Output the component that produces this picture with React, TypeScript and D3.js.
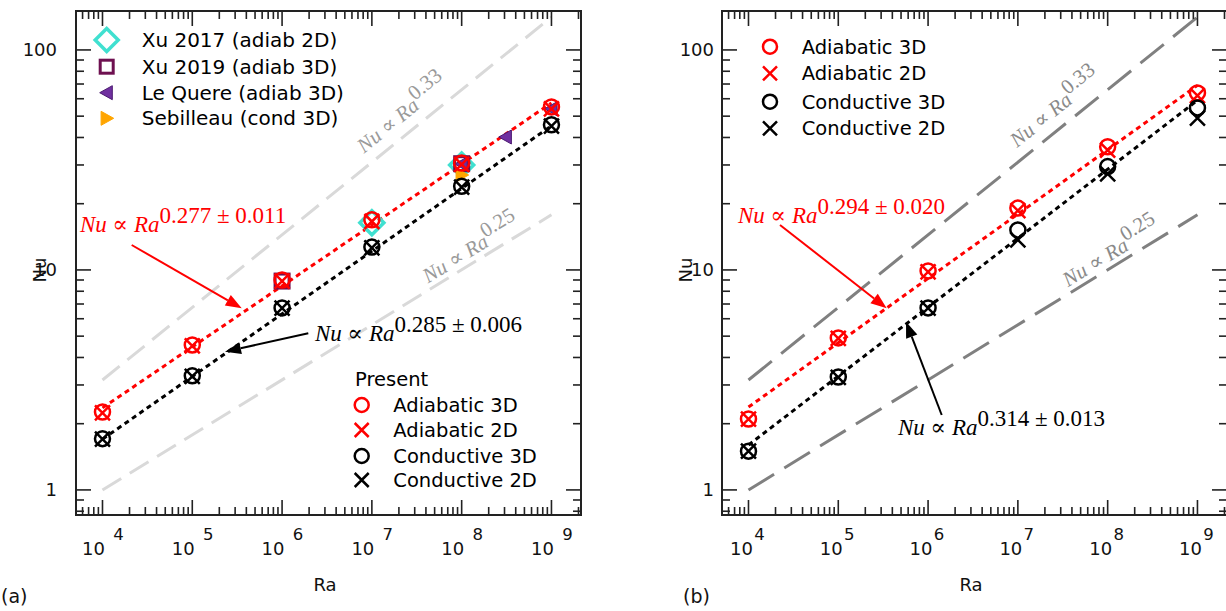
import React from "react";
import * as d3 from "d3";

// ---------------- data ----------------
const RA = [1e4, 1e5, 1e6, 1e7, 1e8, 1e9];

// Panel (a) present results
const A_ADIAB_3D = [2.26, 4.56, 9.0, 16.9, 30.6, 55.1];
const A_ADIAB_2D = [2.24, 4.52, 8.9, 16.6, 30.2, 54.0];
const A_COND_3D = [1.71, 3.3, 6.72, 12.7, 24.0, 45.7];
const A_COND_2D = [1.7, 3.28, 6.7, 12.6, 23.8, 45.0];

// Panel (a) literature
const XU2017_RA = [1e7, 1e8];
const XU2017_NU = [16.4, 30.0];
const XU2019_RA = [1e6, 1e8];
const XU2019_NU = [8.9, 30.4];
const LEQUERE_RA = [1e8, 3.1e8, 1e9];
const LEQUERE_NU = [30.3, 40.2, 54.0];
const SEBILLEAU_RA = [1e8];
const SEBILLEAU_NU = [27.0];

// Panel (b) present results
const B_ADIAB_3D = [2.1, 4.91, 9.9, 19.1, 36.3, 63.8];
const B_ADIAB_2D = [2.1, 4.88, 9.8, 18.6, 35.0, 62.0];
const B_COND_3D = [1.5, 3.26, 6.72, 15.2, 29.5, 54.5];
const B_COND_2D = [1.5, 3.25, 6.7, 13.7, 27.3, 49.0];

// fit lines (end points)
const FIT_RA = [1e4, 1e9];
const A_FIT_ADIAB = [2.36, 57.4];
const A_FIT_COND = [1.7, 45.2];
const B_FIT_ADIAB = [2.38, 69.0];
const B_FIT_COND = [1.6, 59.0];
const A_FIT_LABELS = ["0.277 \u00b1 0.011", "0.285 \u00b1 0.006"];
const B_FIT_LABELS = ["0.294 \u00b1 0.020", "0.314 \u00b1 0.013"];

// reference scaling lines
const REF_RA = [1e4, 1e9];
const REF_033 = [3.16, 141];
const REF_025 = [1.0, 17.8];
const REF_LABELS = ["0.33", "0.25"];

const Y_LABEL_VALUES = [1, 10, 100];
const X_LABEL_EXPONENTS = [4, 5, 6, 7, 8, 9];

const LEGEND_LIT = ["Xu 2017 (adiab 2D)", "Xu 2019 (adiab 3D)", "Le Quere (adiab 3D)", "Sebilleau (cond 3D)"];
const LEGEND_PRESENT = ["Adiabatic 3D", "Adiabatic 2D", "Conductive 3D", "Conductive 2D"];

// ---------------- layout ----------------
const PLOT_W = 505;
const PLOT_H = 504;
const TOP = 11;
const SANS = "DejaVu Sans, Verdana, sans-serif";
const SERIF = "Liberation Serif, DejaVu Serif, serif";
const RED = "#ff0000";
const CYAN = "#40e0d0";
const PLUM = "#6e1050";
const PURPLE = "#7030a0";
const ORANGE = "#ffa500";

const xScale = d3.scaleLog().domain([Math.pow(10, 3.705), Math.pow(10, 9.329)]).range([0, PLOT_W]);
const yScale = d3.scaleLog().domain([Math.pow(10, -0.114), Math.pow(10, 2.177)]).range([PLOT_H, 0]);

type Pt = [number, number];
const zip = (a: number[], b: number[]): Pt[] => a.map((v, i) => [v, b[i]] as Pt);
const lineGen = d3.line<Pt>().x((d) => xScale(d[0])).y((d) => yScale(d[1]));
const isMajor = (v: number) => Math.abs(Math.log10(v) - Math.round(Math.log10(v))) < 1e-6;

function Marker({ kind, x, y, color, s, sw = 2.5, fill = "none" }: any) {
  if (kind === "circle") return <circle cx={x} cy={y} r={s} fill="none" stroke={color} strokeWidth={sw} />;
  if (kind === "cross")
    return (
      <path d={`M${x - s},${y - s}L${x + s},${y + s}M${x - s},${y + s}L${x + s},${y - s}`} stroke={color} strokeWidth={sw} fill="none" />
    );
  if (kind === "diamond")
    return <path d={`M${x},${y - s}L${x + s},${y}L${x},${y + s}L${x - s},${y}Z`} fill={fill} stroke={color} strokeWidth={sw} />;
  if (kind === "square")
    return <rect x={x - s} y={y - s} width={2 * s} height={2 * s} fill={fill} stroke={color} strokeWidth={sw} />;
  if (kind === "triL")
    return <path d={`M${x - s},${y}L${x + s * 0.8},${y - s}L${x + s * 0.8},${y + s}Z`} fill={fill} stroke={color} strokeWidth={sw} strokeLinejoin="miter" />;
  if (kind === "triR")
    return <path d={`M${x + s},${y}L${x - s * 0.8},${y - s}L${x - s * 0.8},${y + s}Z`} fill={fill} stroke={color} strokeWidth={sw} strokeLinejoin="miter" />;
  return null;
}

function Arrow({ x1, y1, x2, y2, color }: any) {
  const ang = Math.atan2(y2 - y1, x2 - x1);
  const L = 16, hw = 6;
  const bx = x2 - L * Math.cos(ang), by = y2 - L * Math.sin(ang);
  const px = -Math.sin(ang) * hw, py = Math.cos(ang) * hw;
  return (
    <g>
      <line x1={x1} y1={y1} x2={bx} y2={by} stroke={color} strokeWidth={2} />
      <path d={`M${x2},${y2}L${bx + px},${by + py}L${bx - px},${by - py}Z`} fill={color} />
    </g>
  );
}

function PowerLaw({ x, y, exp, color, size, rot = 0, sup = 9 }: any) {
  return (
    <text transform={`translate(${x},${y}) rotate(${rot})`} fontFamily={SERIF} fontSize={size} fill={color} style={{ whiteSpace: "pre" }}>
      <tspan fontStyle="italic">Nu</tspan>
      <tspan>{" \u221d "}</tspan>
      <tspan fontStyle="italic">Ra</tspan>
      <tspan dy={-sup}>{exp}</tspan>
    </text>
  );
}

function Panel({ cfg }: any) {
  const xt = xScale.ticks();
  const yt = yScale.ticks();
  const W = PLOT_W, H = PLOT_H;
  const refLine = (nu: number[]) => zip(REF_RA, nu);
  const refAngle = (nu: number[]) =>
    (Math.atan2(yScale(nu[1]) - yScale(nu[0]), xScale(REF_RA[1]) - xScale(REF_RA[0])) * 180) / Math.PI;
  const refY = (nu: number[], px: number) => {
    const x0 = xScale(REF_RA[0]), x1 = xScale(REF_RA[1]);
    const y0 = yScale(nu[0]), y1 = yScale(nu[1]);
    return y0 + ((px - x0) / (x1 - x0)) * (y1 - y0);
  };
  const a = cfg.ann;
  const series = [
    { d: cfg.adiab3d, kind: "circle", color: RED },
    { d: cfg.adiab2d, kind: "cross", color: RED },
    { d: cfg.cond3d, kind: "circle", color: "#000" },
    { d: cfg.cond2d, kind: "cross", color: "#000" },
  ];
  return (
    <g transform={`translate(${cfg.ox},${TOP})`}>
      {/* reference lines */}
      {[REF_033, REF_025].map((nu, i) => (
        <path key={"ref" + i} d={lineGen(refLine(nu)) || ""} fill="none" stroke={cfg.refColor} strokeWidth={3} strokeDasharray={cfg.refDash} />
      ))}
      {[REF_033, REF_025].map((nu, i) => {
        const px = cfg.refLabX[i];
        const py = refY(nu, px) - cfg.refLabDy[i];
        return (
          <PowerLaw key={"rl" + i} x={px} y={py} exp={REF_LABELS[i]} color={cfg.refLabelColor} size={21} rot={refAngle(nu)} sup={9} />
        );
      })}
      {/* fit lines */}
      <path d={lineGen(zip(FIT_RA, cfg.fitAdiab)) || ""} fill="none" stroke={RED} strokeWidth={3} strokeDasharray="5,4" />
      <path d={lineGen(zip(FIT_RA, cfg.fitCond)) || ""} fill="none" stroke="#000" strokeWidth={3} strokeDasharray="5,4" />
      {/* literature */}
      {cfg.literature && (
        <g>
          {zip(XU2017_RA, XU2017_NU).map((p, i) => (
            <Marker key={"x17" + i} kind="diamond" x={xScale(p[0])} y={yScale(p[1])} color={CYAN} s={12} sw={3.5} />
          ))}
          {zip(XU2019_RA, XU2019_NU).map((p, i) => (
            <Marker key={"x19" + i} kind="square" x={xScale(p[0])} y={yScale(p[1])} color={PLUM} s={7} sw={3} />
          ))}
          {zip(LEQUERE_RA, LEQUERE_NU).map((p, i) => (
            <Marker key={"lq" + i} kind="triL" x={xScale(p[0])} y={yScale(p[1])} color="#4b1a70" fill={PURPLE} s={7} sw={1} />
          ))}
          {zip(SEBILLEAU_RA, SEBILLEAU_NU).map((p, i) => (
            <Marker key={"sb" + i} kind="triR" x={xScale(p[0])} y={yScale(p[1])} color={ORANGE} fill={ORANGE} s={7} sw={1} />
          ))}
        </g>
      )}
      {/* present data */}
      {series.map((s, si) =>
        zip(RA, s.d).map((p, i) => (
          <Marker key={"s" + si + "_" + i} kind={s.kind} x={xScale(p[0])} y={yScale(p[1])} color={s.color} s={7.5} sw={2.5} />
        ))
      )}
      {/* annotations */}
      <PowerLaw x={a.redText[0]} y={a.redText[1]} exp={cfg.fitLabels[0]} color={RED} size={23} sup={9.5} />
      <PowerLaw x={a.blackText[0]} y={a.blackText[1]} exp={cfg.fitLabels[1]} color="#000" size={23} sup={9.5} />
      <Arrow x1={a.redArrow[0]} y1={a.redArrow[1]} x2={a.redArrow[2]} y2={a.redArrow[3]} color={RED} />
      <Arrow x1={a.blackArrow[0]} y1={a.blackArrow[1]} x2={a.blackArrow[2]} y2={a.blackArrow[3]} color="#000" />
      {/* legends */}
      {cfg.legend === "a" && (
        <g fontFamily={SANS} fontSize={20} fill="#000">
          {LEGEND_LIT.map((t, i) => {
            const ly = [29, 55.7, 81.7, 107.3][i];
            const m =
              i === 0 ? <Marker kind="diamond" x={30.7} y={ly} color={CYAN} s={11.5} sw={3.5} /> :
              i === 1 ? <Marker kind="square" x={30.7} y={ly} color={PLUM} s={6.5} sw={3} /> :
              i === 2 ? <Marker kind="triL" x={30.7} y={ly} color="#4b1a70" fill={PURPLE} s={7} sw={1} /> :
              <Marker kind="triR" x={30.7} y={ly} color={ORANGE} fill={ORANGE} s={7} sw={1} />;
            return (
              <g key={"ll" + i}>
                {m}
                <text x={65.7} y={ly + 7}>{t}</text>
              </g>
            );
          })}
          <text x={279} y={375} fontSize={19.5}>Present</text>
          {LEGEND_PRESENT.map((t, i) => {
            const ly = [394, 419, 445, 469][i];
            return (
              <g key={"lp" + i}>
                <Marker kind={i % 2 === 0 ? "circle" : "cross"} x={285.7} y={ly} color={i < 2 ? RED : "#000"} s={7} sw={2.5} />
                <text x={317.3} y={ly + 7} fontSize={19.5}>{t}</text>
              </g>
            );
          })}
        </g>
      )}
      {cfg.legend === "b" && (
        <g fontFamily={SANS} fontSize={19.5} fill="#000">
          {LEGEND_PRESENT.map((t, i) => {
            const ly = [35.7, 62.3, 90.7, 117.3][i];
            return (
              <g key={"lb" + i}>
                <Marker kind={i % 2 === 0 ? "circle" : "cross"} x={48} y={ly} color={i < 2 ? RED : "#000"} s={7} sw={2.5} />
                <text x={79.7} y={ly + 7}>{t}</text>
              </g>
            );
          })}
        </g>
      )}
      {/* frame & ticks */}
      <rect x={0} y={0} width={W} height={H} fill="none" stroke="#222" strokeWidth={2} />
      {xt.map((v, i) => {
        const x = xScale(v);
        const len = isMajor(v) ? 15 : 8;
        return (
          <g key={"xt" + i} stroke="#222" strokeWidth={1.6}>
            <line x1={x} y1={H} x2={x} y2={H - len} />
            <line x1={x} y1={0} x2={x} y2={len} />
          </g>
        );
      })}
      {yt.map((v, i) => {
        const y = yScale(v);
        const len = isMajor(v) ? 15 : 8;
        return (
          <g key={"yt" + i} stroke="#222" strokeWidth={1.6}>
            <line x1={0} y1={y} x2={len} y2={y} />
            <line x1={W} y1={y} x2={W - len} y2={y} />
          </g>
        );
      })}
      {/* tick labels */}
      <g fontFamily={SANS} fill="#111">
        {X_LABEL_EXPONENTS.map((e) => {
          const x = xScale(Math.pow(10, e));
          return (
            <g key={"xl" + e}>
              <text x={x + cfg.tenDx} y={544} fontSize={18} textAnchor="middle">10</text>
              <text x={x + cfg.expDx} y={529} fontSize={16.5} textAnchor="middle">{e}</text>
            </g>
          );
        })}
        {Y_LABEL_VALUES.map((v) => (
          <text key={"yl" + v} x={cfg.yLabDx} y={yScale(v)} dy="0.36em" fontSize={18} textAnchor="end">{v}</text>
        ))}
        <text x={249} y={580} fontSize={18} textAnchor="middle">Ra</text>
        <text transform={`translate(${cfg.yTitleX},259) rotate(-90)`} fontSize={18} textAnchor="middle">Nu</text>
      </g>
    </g>
  );
}

const PANEL_A = {
  ox: 76,
  adiab3d: A_ADIAB_3D, adiab2d: A_ADIAB_2D, cond3d: A_COND_3D, cond2d: A_COND_2D,
  fitAdiab: A_FIT_ADIAB, fitCond: A_FIT_COND, fitLabels: A_FIT_LABELS,
  refColor: "#d9d9d9", refDash: "22,10", refLabelColor: "#9a9a9a",
  refLabX: [288, 352], refLabDy: [15, 7],
  literature: true, legend: "a",
  tenDx: -9, expDx: 16, yLabDx: -19, yTitleX: -30,
  ann: {
    redText: [4, 221], blackText: [239, 330],
    redArrow: [55.7, 234, 165.7, 297.3], blackArrow: [232.3, 322.3, 149, 340.7],
  },
};

const PANEL_B = {
  ox: 722,
  adiab3d: B_ADIAB_3D, adiab2d: B_ADIAB_2D, cond3d: B_COND_3D, cond2d: B_COND_2D,
  fitAdiab: B_FIT_ADIAB, fitCond: B_FIT_COND, fitLabels: B_FIT_LABELS,
  refColor: "#808080", refDash: "30,12", refLabelColor: "#8a8a8a",
  refLabX: [295, 346], refLabDy: [15, 7],
  literature: false, legend: "b",
  tenDx: -7, expDx: 11, yLabDx: -8, yTitleX: -30,
  ann: {
    redText: [16, 212], blackText: [176, 424],
    redArrow: [58, 214, 164.7, 297.3], blackArrow: [219.7, 404, 184, 310.7],
  },
};

export default function App() {
  return (
    <svg width={1226} height={611} style={{ position: "absolute", left: 0, top: 0, background: "#fff" }}>
      <rect x={0} y={0} width={1226} height={611} fill="#fff" />
      <Panel cfg={PANEL_A} />
      <Panel cfg={PANEL_B} />
      <text x={1} y={603} fontFamily={SANS} fontSize={19} fill="#111">(a)</text>
      <text x={683} y={603} fontFamily={SANS} fontSize={19} fill="#111">(b)</text>
    </svg>
  );
}
